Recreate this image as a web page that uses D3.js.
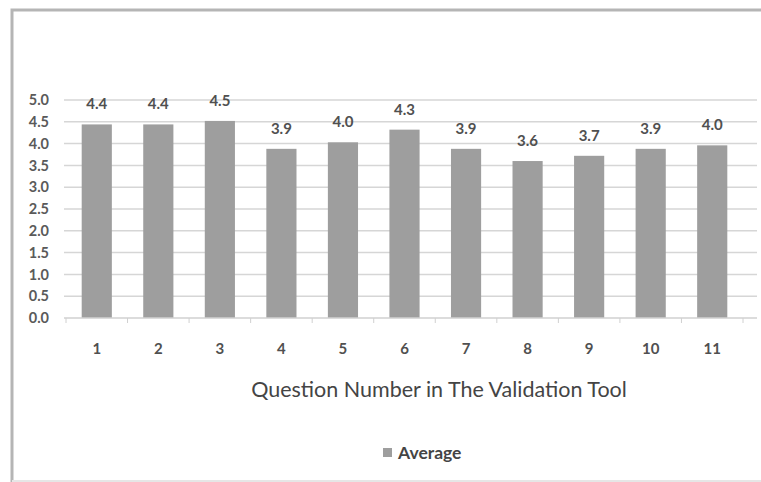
<!DOCTYPE html>
<html><head><meta charset="utf-8">
<script src="https://cdn.jsdelivr.net/npm/d3@7"></script>
<style>body{margin:0;background:#fff}svg{display:block}text{font-family:Lato,"Open Sans",sans-serif}</style>
</head><body><svg id="c" width="761" height="482"></svg>
<script>
const categories = ["1","2","3","4","5","6","7","8","9","10","11"];
const averages = [4.44, 4.44, 4.52, 3.88, 4.03, 4.32, 3.88, 3.60, 3.72, 3.88, 3.96];
const yTicks = [0,0.5,1,1.5,2,2.5,3,3.5,4,4.5,5];
const seriesName = "Average";
const xTitle = "Question Number in The Validation Tool";

const svg = d3.select("#c");
// frame
svg.append("path").attr("d","M12,482 V10 H761").attr("fill","none").attr("stroke","#b5b5b5").attr("stroke-width",3);
svg.append("line").attr("x1",12).attr("x2",761).attr("y1",481).attr("y2",481).attr("stroke","#e6e6e6").attr("stroke-width",2);

const x = d3.scaleBand().domain(categories).range([66, 743]).paddingInner(0.51).paddingOuter(0.255);
const y = d3.scaleLinear().domain([0,5]).range([318, 100]);

// gridlines
svg.append("g").selectAll("line").data(yTicks.slice(1)).join("line")
  .attr("x1",64).attr("x2",757).attr("y1",d=>y(d)).attr("y2",d=>y(d))
  .attr("stroke","#d6d6d6").attr("stroke-width",1.5);

// y axis labels
const yAxis = d3.axisLeft(y).tickValues(yTicks).tickFormat(d3.format(".1f")).tickSize(0).tickPadding(0);
const gy = svg.append("g").attr("transform","translate(49,0)").call(yAxis);
gy.select(".domain").remove();
gy.selectAll("text").attr("fill","#5a5a5a").attr("font-size",14.5).attr("font-weight","bold");

// bars
svg.append("g").selectAll("rect").data(averages).join("rect")
  .attr("x",(d,i)=>x(categories[i])).attr("width",x.bandwidth())
  .attr("y",d=>y(d)).attr("height",d=>y(0)-y(d)).attr("fill","#9e9e9e");

// value labels
svg.append("g").selectAll("text").data(averages).join("text")
  .attr("x",(d,i)=>x(categories[i])+x.bandwidth()/2).attr("y",d=>y(d)-15)
  .attr("text-anchor","middle").attr("font-size",15).attr("font-weight","bold").attr("fill","#505050")
  .text(d=>d.toFixed(1));

// x axis
const xAxis = d3.axisBottom(x).tickSize(0).tickPadding(25);
const gx = svg.append("g").attr("transform","translate(0,318)").call(xAxis);
gx.select(".domain").attr("stroke","#d0d0d0").attr("stroke-width",1.5).attr("d","M64,0H757");
gx.selectAll("text").attr("fill","#505050").attr("font-size",15).attr("font-weight","bold").attr("font-family","Lato,sans-serif");
// category boundary ticks
const bounds = categories.map((c,i)=>x(c)-x.step()*x.paddingInner()/2).concat([743]);
gx.append("g").selectAll("line").data(bounds).join("line")
  .attr("x1",d=>d).attr("x2",d=>d).attr("y1",0).attr("y2",5).attr("stroke","#d0d0d0");

// axis title
svg.append("text").attr("x",439).attr("y",397).attr("text-anchor","middle")
  .attr("font-size",21.5).attr("fill","#444").text(xTitle);

// legend
svg.append("rect").attr("x",383).attr("y",448).attr("width",9).attr("height",9).attr("fill","#9e9e9e");
svg.append("text").attr("x",398).attr("y",459).attr("font-size",17.5).attr("font-weight","bold").attr("fill","#444").text(seriesName);
</script></body></html>
